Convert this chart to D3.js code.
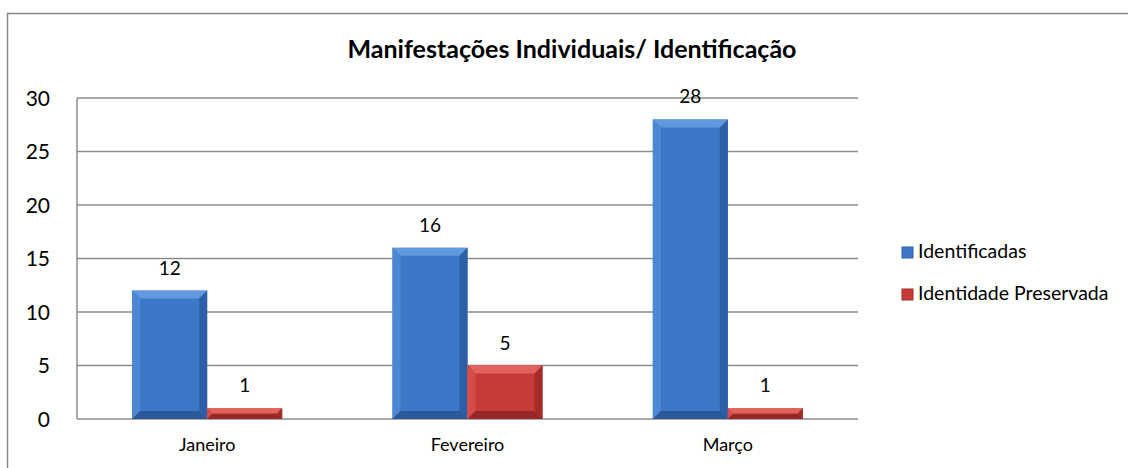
<!DOCTYPE html>
<html>
<head>
<meta charset="utf-8">
<script src="https://cdn.jsdelivr.net/npm/d3@7"></script>
<style>
  body { margin: 0; background: #fff; }
  text { font-family: Lato, "Open Sans", sans-serif; fill: #000; }
</style>
</head>
<body>
<div id="chart"></div>
<script>
// data
const months = ["Janeiro", "Fevereiro", "Março"];
const seriesNames = ["Identificadas", "Identidade Preservada"];
const identificadas = [12, 16, 28];
const preservada = [1, 5, 1];
const yTicks = [0, 5, 10, 15, 20, 25, 30];

const width = 1128, height = 468;
const plot = { left: 77, top: 98, right: 858, bottom: 419 };

const svg = d3.select("#chart")
    .append("svg")
    .attr("width", width)
    .attr("height", height);

//outer frame (runs past the right and bottom edges)
svg.append("rect")
    .attr("x", 7.5).attr("y", 13.5)
    .attr("width", width + 20).attr("height", height + 20)
    .attr("fill", "#fff")
    .attr("stroke", "#868686")
    .attr("stroke-width", 1.5);

svg.append("text")
    .attr("x", 572).attr("y", 58)
    .attr("text-anchor", "middle")
    .attr("font-size", 25)
    .attr("font-weight", "bold")
    .text("Manifestações Individuais/ Identificação");

const x = d3.scaleBand()
    .domain(months)
    .range([plot.left, plot.right]);

const y = d3.scaleLinear()
    .domain([0, 30])
    .range([plot.bottom, plot.top]);

//grid lines
svg.append("g")
    .selectAll("line")
    .data(yTicks)
    .enter()
    .append("line")
    .attr("x1", plot.left).attr("x2", plot.right)
    .attr("y1", d => y(d)).attr("y2", d => y(d))
    .attr("stroke", "#8c8c8c")
    .attr("stroke-width", 1.5);

svg.append("line")
    .attr("x1", plot.left).attr("x2", plot.left)
    .attr("y1", plot.top).attr("y2", plot.bottom)
    .attr("stroke", "#8c8c8c")
    .attr("stroke-width", 1.5);

//y axis labels
svg.append("g")
    .selectAll("text")
    .data(yTicks)
    .enter()
    .append("text")
    .attr("x", 50)
    .attr("y", d => y(d) + 7.5)
    .attr("text-anchor", "end")
    .attr("font-size", 21)
    .text(d => d);

//x axis labels
svg.append("g")
    .selectAll("text")
    .data(months)
    .enter()
    .append("text")
    .attr("x", d => x(d) + x.bandwidth() / 2)
    .attr("y", 451)
    .attr("text-anchor", "middle")
    .attr("font-size", 18)
    .text(d => d);

const inner = d3.scaleBand()
    .domain(seriesNames)
    .range([0, 150]);

const palettes = [
    { main: "#3d78c8", top: "#6099de", left: "#4d86d2", right: "#2d5fa6", bottom: "#2a5898" },
    { main: "#c63b37", top: "#e4625e", left: "#d34c48", right: "#a32c29", bottom: "#952826" }
];

const rows = [];
months.forEach((m, i) => {
    [identificadas[i], preservada[i]].forEach((v, s) => {
        rows.push({ month: m, series: s, value: v });
    });
});

function bevel(g, d) {
    const x0 = x(d.month) + (x.bandwidth() - 150) / 2 + inner(seriesNames[d.series]);
    const w = inner.bandwidth();
    const y0 = y(d.value), y1 = y(0);
    const h = y1 - y0;
    const b = Math.min(8, h / 2, w / 2);
    const p = palettes[d.series];
    g.append("rect")
        .attr("x", x0).attr("y", y0)
        .attr("width", w).attr("height", h)
        .attr("fill", p.main);
    const poly = (pts, c) => g.append("polygon")
        .attr("points", pts.map(q => q.join(",")).join(" "))
        .attr("fill", c);
    poly([[x0, y0], [x0 + w, y0], [x0 + w - b, y0 + b], [x0 + b, y0 + b]], p.top);
    poly([[x0, y0], [x0 + b, y0 + b], [x0 + b, y1 - b], [x0, y1]], p.left);
    poly([[x0 + w, y0], [x0 + w, y1], [x0 + w - b, y1 - b], [x0 + w - b, y0 + b]], p.right);
    poly([[x0, y1], [x0 + b, y1 - b], [x0 + w - b, y1 - b], [x0 + w, y1]], p.bottom);
    g.append("text")
        .attr("x", x0 + w / 2)
        .attr("y", y0 - 16)
        .attr("text-anchor", "middle")
        .attr("font-size", 19)
        .text(d.value);
}

const bars = svg.append("g");
rows.forEach(d => bevel(bars.append("g"), d));

//legend
const legend = svg.append("g")
    .selectAll("g")
    .data(seriesNames)
    .enter()
    .append("g")
    .attr("transform", (d, i) => `translate(902, ${247 + i * 42})`);

legend.append("rect")
    .attr("width", 11).attr("height", 11)
    .attr("fill", (d, i) => palettes[i].main)
    .attr("stroke", (d, i) => palettes[i].right)
    .attr("stroke-width", 1);

legend.append("text")
    .attr("x", 16)
    .attr("y", 11)
    .attr("font-size", 19.5)
    .text(d => d);
</script>
</body>
</html>
